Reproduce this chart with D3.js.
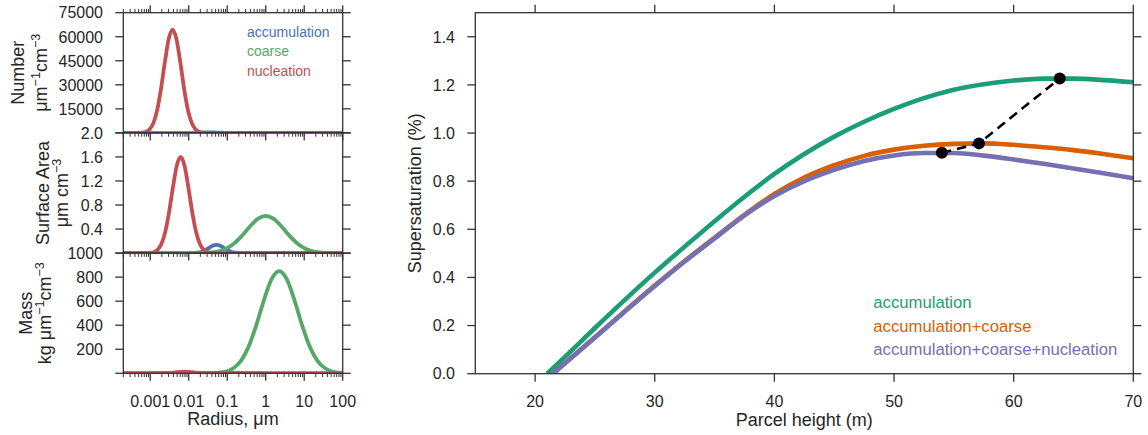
<!DOCTYPE html>
<html>
<head>
<meta charset="utf-8">
<script src="https://cdn.jsdelivr.net/npm/d3@7"></script>
<style>
  body { margin: 0; background: #fff; }
  text { font-family: "Liberation Sans", Arial, Helvetica, sans-serif; fill: #262626; }
</style>
</head>
<body>
<svg id="fig" width="1148" height="435"></svg>
<script>
// ---------------- Aerosol size distributions (radius as log10 μm) ----------------
const modeNames  = ["accumulation", "coarse", "nucleation"];
const modeColors = ["#4c72b0", "#55a868", "#c44e52"];

// Number distribution, μm⁻¹ cm⁻³
const numAccumLogR = [-3.7, -2.05, -1.95, -1.85, -1.75, -1.65, -1.55, -1.45, -1.35, -1.25, -1.15, -1.05, -0.95, -0.85, 2.0];
const numAccum     = [0, 3, 13, 41, 97, 182, 265, 300, 265, 182, 97, 41, 13, 3, 0];
const numCoarseLogR = [-3.7, 2.0];
const numCoarse     = [0, 0];
const numNuclLogR = [-3.7, -3.32, -3.22, -3.12, -3.02, -2.92, -2.82, -2.72, -2.62, -2.52, -2.42,
                     -2.32, -2.22, -2.12, -2.02, -1.92, -1.82, -1.72, -1.62, -1.52, 2.0];
const numNucl     = [0, 30, 150, 630, 2150, 6070, 14220, 27550, 44200, 58680, 64500,
                     58680, 44200, 27550, 14220, 6070, 2150, 630, 150, 30, 0];

// Surface area distribution, μm cm⁻³
const areaAccumLogR = [-3.7, -1.98, -1.88, -1.78, -1.68, -1.58, -1.48, -1.38, -1.28,
                       -1.18, -1.08, -0.98, -0.88, -0.78, -0.68, -0.58, 2.0];
const areaAccum     = [0, 0.0003, 0.0015, 0.0061, 0.0187, 0.0448, 0.0837, 0.1218, 0.138,
                       0.1218, 0.0837, 0.0448, 0.0187, 0.0061, 0.0015, 0.0003, 0];
const areaCoarseLogR = [-3.7, -1.8, -1.6, -1.4, -1.2, -1.0, -0.8, -0.6, -0.4, -0.2, 0.0,
                        0.2, 0.4, 0.6, 0.8, 1.0, 1.2, 1.4, 1.6, 1.8, 2.0];
const areaCoarse     = [0, 0.0009, 0.0037, 0.0123, 0.0348, 0.0839, 0.1724, 0.3018, 0.4502, 0.5723, 0.62,
                        0.5723, 0.4502, 0.3018, 0.1724, 0.0839, 0.0348, 0.0123, 0.0037, 0.0009, 0];
const areaNuclLogR = [-3.7, -3.11, -3.01, -2.91, -2.81, -2.71, -2.61, -2.51, -2.41, -2.31, -2.21,
                      -2.11, -2.01, -1.91, -1.81, -1.71, -1.61, -1.51, -1.41, -1.31, 2.0];
const areaNucl     = [0, 0.0008, 0.0038, 0.0156, 0.0533, 0.1506, 0.3526, 0.6834, 1.0963, 1.4557, 1.6,
                      1.4557, 1.0963, 0.6834, 0.3526, 0.1506, 0.0533, 0.0156, 0.0038, 0.0008, 0];

// Mass distribution, kg μm⁻¹ cm⁻³
const massAccumLogR = [-3.7, -1.7, -1.6, -1.5, -1.4, -1.3, -1.2, -1.1, -1.0, -0.9, -0.8, -0.7, -0.6, -0.5, 2.0];
const massAccum     = [0, 0.07, 0.26, 0.8, 1.9, 3.6, 5.3, 6, 5.3, 3.6, 1.9, 0.8, 0.26, 0.07, 0];
const massCoarseLogR = [-3.7, -1.45, -1.25, -1.05, -0.85, -0.65, -0.45, -0.25, -0.05, 0.15, 0.35,
                        0.55, 0.75, 0.95, 1.15, 1.35, 1.55, 1.75, 1.95, 2.15];
const massCoarse     = [0, 0.9, 3.7, 13.1, 39.7, 101.2, 217.8, 395.2, 604.8, 780.6, 850,
                        780.6, 604.8, 395.2, 217.8, 101.2, 39.7, 13.1, 3.7, 0.9];
const massNuclLogR = [-3.7, -2.7, -2.6, -2.5, -2.4, -2.3, -2.2, -2.1, -2.0, -1.9, -1.8, -1.7, -1.6, -1.5, 2.0];
const massNucl     = [0, 0.5, 1.3, 3.1, 6.0, 9.6, 12.7, 14, 12.7, 9.6, 6.0, 3.1, 1.3, 0.5, 0];

const radiusTicks      = [0.001, 0.01, 0.1, 1, 10, 100];
const radiusTickLabels = ["0.001", "0.01", "0.1", "1", "10", "100"];

const panels = [
  { ymax: 75000, yticks: [15000, 30000, 45000, 60000, 75000], fmt: d => String(d),
    series: [[numAccumLogR, numAccum], [numCoarseLogR, numCoarse], [numNuclLogR, numNucl]],
    label: ["Number", [["μm"], ["−1", true], ["cm"], ["−3", true]]], lx: [23.5, 47] },
  { ymax: 2.0, yticks: [0.4, 0.8, 1.2, 1.6, 2.0], fmt: d3.format(".1f"),
    series: [[areaAccumLogR, areaAccum], [areaCoarseLogR, areaCoarse], [areaNuclLogR, areaNucl]],
    label: ["Surface Area", [["μm cm"], ["−3", true]]], lx: [49, 67.5] },
  { ymax: 1000, yticks: [200, 400, 600, 800, 1000], fmt: d => String(d),
    series: [[massAccumLogR, massAccum], [massCoarseLogR, massCoarse], [massNuclLogR, massNucl]],
    label: ["Mass", [["kg μm"], ["−1", true], ["cm"], ["−3", true]]], lx: [32, 51] }
];

// ---------------- Parcel supersaturation ----------------
const parcelHeight = [21, 22.5, 25, 27.5, 30, 32.5, 35, 37.5, 40, 42.5, 45, 47.5, 50,
                      52.5, 55, 57.5, 60, 62.5, 65, 67.5, 70];
const ssAccum = [0.0, 0.07, 0.19, 0.307, 0.42, 0.528, 0.633, 0.735, 0.83, 0.913, 0.985, 1.047, 1.1,
                 1.145, 1.18, 1.203, 1.218, 1.226, 1.226, 1.22, 1.211];
const ssAccumCoarse = [-0.02, 0.044, 0.151, 0.26, 0.366, 0.468, 0.565, 0.66, 0.747, 0.815, 0.866, 0.905, 0.931,
                       0.947, 0.955, 0.957, 0.951, 0.941, 0.929, 0.913, 0.895];
const ssAll = [-0.02, 0.043, 0.15, 0.258, 0.364, 0.466, 0.562, 0.658, 0.738, 0.8, 0.847, 0.884, 0.907,
               0.917, 0.917, 0.906, 0.89, 0.872, 0.853, 0.833, 0.812];
const caseNames  = ["accumulation", "accumulation+coarse", "accumulation+coarse+nucleation"];
const caseColors = ["#1b9e77", "#d95f02", "#7570b3"];
// Maximum supersaturation reached in each case
const peakHeight = [54.0, 57.1, 63.85];
const peakSS     = [0.918, 0.957, 1.227];
const heightTicks = [20, 30, 40, 50, 60, 70];
const ssTicks     = [0.0, 0.2, 0.4, 0.6, 0.8, 1.0, 1.2, 1.4];

// ---------------- Drawing ----------------
const svg = d3.select("#fig");
const axisColor = "#333";
const defs = svg.append("defs");

function rotatedLabel(x, y, parts, size) {
  const t = svg.append("text")
    .attr("transform", `translate(${x},${y}) rotate(-90)`)
    .attr("text-anchor", "middle")
    .style("font-size", size + "px");
  let up = false;
  parts.forEach(([s, sup]) => {
    const ts = t.append("tspan").text(s);
    if (sup && !up) { ts.attr("dy", -7).style("font-size", (size * 0.7) + "px"); up = true; }
    else if (sup) { ts.style("font-size", (size * 0.7) + "px"); }
    else if (up) { ts.attr("dy", 7); up = false; }
  });
  return t;
}

// Left column of stacked panels
const L = { x0: 123.3, x1: 342.7, top: 12.7, h: 120.2 };
const xR = d3.scaleLog().domain([Math.pow(10, -3.7), 100]).range([L.x0, L.x1]);
const allRTicks = xR.ticks().filter(d => d >= xR.domain()[0] * 0.999);
const isMajor = d => Math.abs(Math.log10(d) - Math.round(Math.log10(d))) < 1e-9;

panels.forEach((p, i) => {
  const top = L.top + i * L.h, bot = top + L.h;
  const y = d3.scaleLinear().domain([0, p.ymax]).range([bot, top]);
  const g = svg.append("g");
  const cid = "clipL" + i;
  defs.append("clipPath").attr("id", cid).append("rect")
    .attr("x", L.x0).attr("y", top).attr("width", L.x1 - L.x0).attr("height", L.h);
  const line = d3.line().curve(d3.curveMonotoneX);
  const lg = g.append("g").attr("clip-path", `url(#${cid})`);
  p.series.forEach(([lr, v], k) => {
    const pts = lr.map((r, j) => [xR(Math.pow(10, r)), y(v[j])]);
    lg.append("path").attr("d", line(pts)).attr("fill", "none")
      .attr("stroke", modeColors[k]).attr("stroke-width", 3.8)
      .attr("stroke-linejoin", "round");
  });
  // frame
  g.append("rect").attr("x", L.x0).attr("y", top).attr("width", L.x1 - L.x0).attr("height", L.h)
    .attr("fill", "none").attr("stroke", axisColor).attr("stroke-width", 1.3);
  // y ticks, both sides outward
  [0].concat(p.yticks).forEach(t => {
    g.append("line").attr("x1", L.x0 - 8).attr("x2", L.x0).attr("y1", y(t)).attr("y2", y(t))
      .attr("stroke", axisColor).attr("stroke-width", 1.3);
    g.append("line").attr("x1", L.x1).attr("x2", L.x1 + 8).attr("y1", y(t)).attr("y2", y(t))
      .attr("stroke", axisColor).attr("stroke-width", 1.3);
  });
  p.yticks.forEach(t => {
    g.append("text").attr("x", 103).attr("y", y(t)).attr("dy", "0.36em")
      .attr("text-anchor", "end").style("font-size", "16px").text(p.fmt(t));
  });
  // x ticks below each panel (and above the first)
  const edges = i === 0 ? [[bot, 1], [top, -1]] : [[bot, 1]];
  edges.forEach(([yy, dir]) => {
    allRTicks.forEach(d => {
      const len = isMajor(d) ? 7.5 : 3.8;
      g.append("line").attr("x1", xR(d)).attr("x2", xR(d)).attr("y1", yy).attr("y2", yy + dir * len)
        .attr("stroke", axisColor).attr("stroke-width", isMajor(d) ? 1.3 : 1);
    });
  });
  // axis label, two lines
  const cy = (top + bot) / 2;
  rotatedLabel(p.lx[0], cy, [[p.label[0]]], 18);
  rotatedLabel(p.lx[1], cy, p.label[1], 18);
});

radiusTicks.forEach((t, k) => {
  svg.append("text").attr("x", xR(t)).attr("y", 406.5).attr("text-anchor", "middle")
    .style("font-size", "16px").text(radiusTickLabels[k]);
});
svg.append("text").attr("x", (L.x0 + L.x1) / 2).attr("y", 425).attr("text-anchor", "middle")
  .style("font-size", "18px").text("Radius, μm");

modeNames.forEach((n, k) => {
  svg.append("text").attr("x", 247).attr("y", [36.5, 56, 76][k])
    .style("font-size", "14px").style("fill", modeColors[k]).text(n);
});

// Right panel: supersaturation vs parcel height
const R = { x0: 475.3, x1: 1133.3, y0: 12.7, y1: 373.7 };
const xH = d3.scaleLinear().domain([15, 70]).range([R.x0, R.x1]);
const yS = d3.scaleLinear().domain([0, 1.5]).range([R.y1, R.y0]);
defs.append("clipPath").attr("id", "clipR").append("rect")
  .attr("x", R.x0).attr("y", R.y0).attr("width", R.x1 - R.x0).attr("height", R.y1 - R.y0);
const rg = svg.append("g").attr("clip-path", "url(#clipR)");
const sLine = d3.line().x((d, j) => xH(parcelHeight[j])).y(d => yS(d)).curve(d3.curveMonotoneX);
[ssAccum, ssAccumCoarse, ssAll].forEach((s, k) => {
  rg.append("path").attr("d", sLine(s)).attr("fill", "none")
    .attr("stroke", caseColors[k]).attr("stroke-width", 4.6).attr("stroke-linejoin", "round");
});
rg.append("path")
  .attr("d", d3.line()(peakHeight.map((h, j) => [xH(h), yS(peakSS[j])])))
  .attr("fill", "none").attr("stroke", "#000").attr("stroke-width", 2.6)
  .attr("stroke-dasharray", "9.5,6");
peakHeight.forEach((h, j) => {
  svg.append("circle").attr("cx", xH(h)).attr("cy", yS(peakSS[j])).attr("r", 6).attr("fill", "#000");
});

svg.append("rect").attr("x", R.x0).attr("y", R.y0).attr("width", R.x1 - R.x0).attr("height", R.y1 - R.y0)
  .attr("fill", "none").attr("stroke", axisColor).attr("stroke-width", 1.3);
heightTicks.forEach(t => {
  svg.append("line").attr("x1", xH(t)).attr("x2", xH(t)).attr("y1", R.y1).attr("y2", R.y1 + 8)
    .attr("stroke", axisColor).attr("stroke-width", 1.3);
  svg.append("line").attr("x1", xH(t)).attr("x2", xH(t)).attr("y1", R.y0).attr("y2", R.y0 - 8)
    .attr("stroke", axisColor).attr("stroke-width", 1.3);
  svg.append("text").attr("x", xH(t)).attr("y", 406.5).attr("text-anchor", "middle")
    .style("font-size", "16px").text(String(t));
});
ssTicks.forEach(t => {
  svg.append("line").attr("x1", R.x0 - 8).attr("x2", R.x0).attr("y1", yS(t)).attr("y2", yS(t))
    .attr("stroke", axisColor).attr("stroke-width", 1.3);
  svg.append("line").attr("x1", R.x1).attr("x2", R.x1 + 8).attr("y1", yS(t)).attr("y2", yS(t))
    .attr("stroke", axisColor).attr("stroke-width", 1.3);
  svg.append("text").attr("x", 455).attr("y", yS(t)).attr("dy", "0.36em").attr("text-anchor", "end")
    .style("font-size", "16px").text(d3.format(".1f")(t));
});
svg.append("text").attr("x", (R.x0 + R.x1) / 2).attr("y", 426).attr("text-anchor", "middle")
  .style("font-size", "18px").text("Parcel height (m)");
rotatedLabel(421, (R.y0 + R.y1) / 2, [["Supersaturation (%)"]], 18);

caseNames.forEach((n, k) => {
  svg.append("text").attr("x", 873.3).attr("y", [308, 331.5, 355][k])
    .style("font-size", "16.7px").style("fill", caseColors[k]).text(n);
});
</script>
</body>
</html>
